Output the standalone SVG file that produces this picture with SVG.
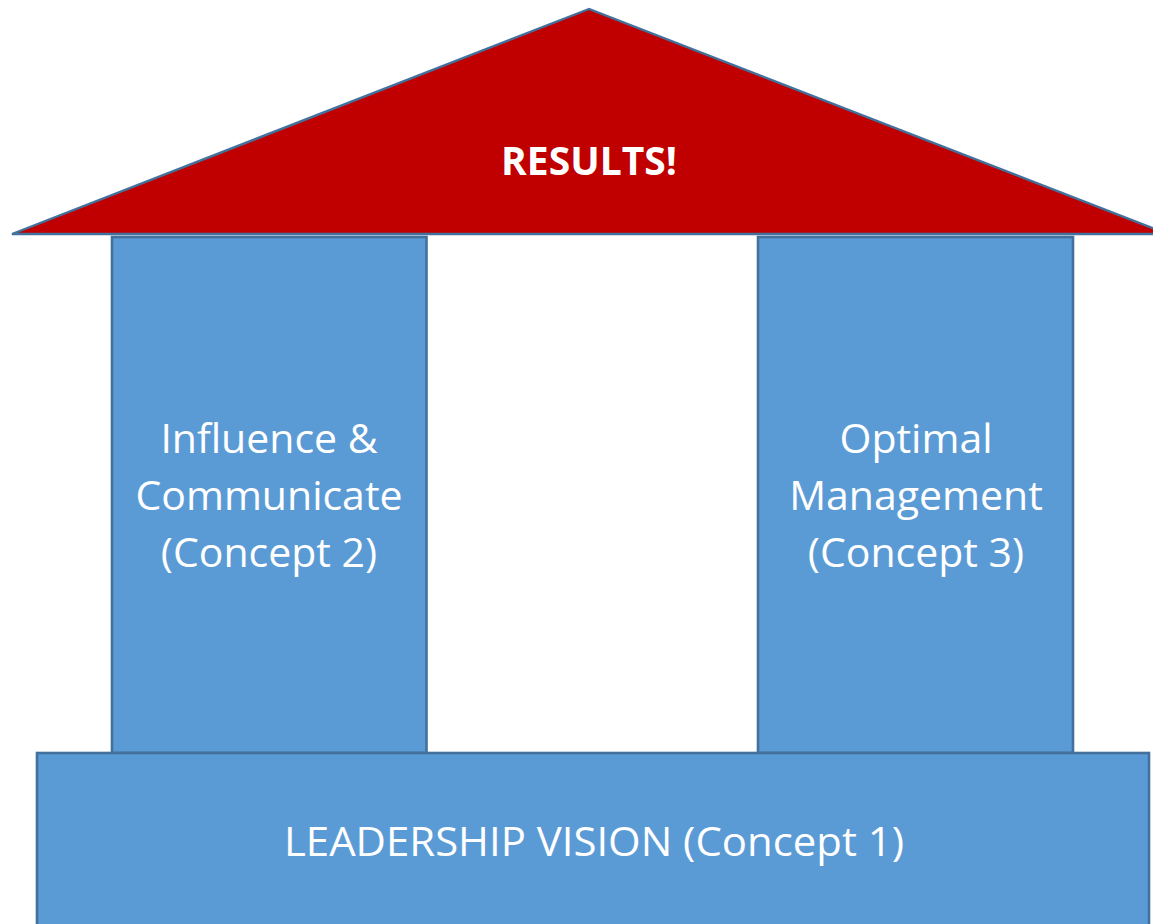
<svg xmlns="http://www.w3.org/2000/svg" width="1153" height="924" viewBox="0 0 1153 924">
<style>
.blk{fill:#5B9BD5;stroke:#41719C;stroke-width:2.6}
.roof{fill:#C00000;stroke:#41719C;stroke-width:2.4;stroke-linejoin:miter}
.t{font-family:"Open Sans","Liberation Sans",sans-serif;font-size:41px;fill:#FFFFFF;text-anchor:middle}
.tb{font-family:"Open Sans","Liberation Sans",sans-serif;font-size:39px;font-weight:bold;fill:#FFFFFF;text-anchor:middle}
</style>
<rect width="1153" height="924" fill="#FFFFFF"/>
<g id="connectors"></g>
<g id="roof">
<polygon class="roof" points="589,9 12,234 1168,234"/>
<text class="tb" x="589" y="175">RESULTS!</text>
</g>
<g id="pillar-left">
<rect class="blk" x="112" y="237" width="314.5" height="516"/>
<text class="t" x="269" y="453">Influence &amp;</text>
<text class="t" x="269" y="510">Communicate</text>
<text class="t" x="269" y="567">(Concept 2)</text>
</g>
<g id="pillar-right">
<rect class="blk" x="758" y="237" width="315" height="516"/>
<text class="t" x="916" y="453">Optimal</text>
<text class="t" x="916" y="510">Management</text>
<text class="t" x="916" y="567">(Concept 3)</text>
</g>
<g id="base">
<rect class="blk" x="37" y="753" width="1112" height="200"/>
<text class="t" x="594" y="856" textLength="620" lengthAdjust="spacingAndGlyphs">LEADERSHIP VISION (Concept 1)</text>
</g>
</svg>
